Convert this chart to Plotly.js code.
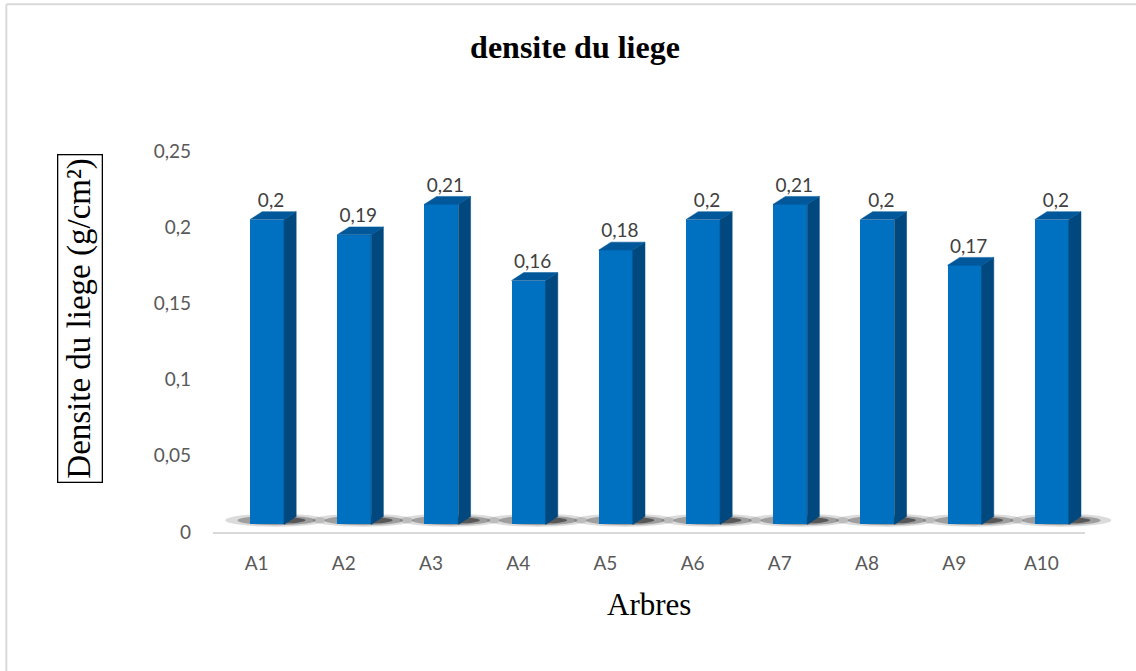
<!DOCTYPE html>
<html><head><meta charset="utf-8">
<script src="https://cdn.plot.ly/plotly-3.0.1.min.js"></script>
<style>html,body{margin:0;padding:0;background:#fff}#chart{width:1136px;height:671px}</style>
</head><body><div id="chart"></div>
<script>
const categories = ['A1','A2','A3','A4','A5','A6','A7','A8','A9','A10'];
const densite = [0.2, 0.19, 0.21, 0.16, 0.18, 0.2, 0.21, 0.2, 0.17, 0.2];
const chartTitle = 'densite du liege';
const yTitle = 'Densite du liege (g/cm²)';
const xTitle = 'Arbres';

// 3D styling geometry (category units / data units)
const faceL = -0.076, faceR = 0.314, depthX = 0.14, depthY = 0.0052, lift = 0.005;
const xRange = [-0.5, 9.5], yRange = [0, 0.25];

const idx = categories.map((c, i) => i);
const px = x => (x - xRange[0]) / (xRange[1] - xRange[0]);
const py = y => (y - yRange[0]) / (yRange[1] - yRange[0]);

const sideX = [], sideY = [], topX = [], topY = [];
idx.forEach(i => {
  const v = densite[i] + lift;
  const l = i + faceL, r = i + faceR;
  sideX.push(r, r + depthX, r + depthX, r, r, null);
  sideY.push(lift, lift + depthY, v + depthY, v, lift, null);
  topX.push(l, l + depthX, r + depthX, r, l, null);
  topY.push(v, v + depthY, v + depthY, v, v, null);
});

const frontTrace = {
  type: 'bar', x: idx, y: densite, base: lift,
  width: faceR - faceL, offset: faceL,
  marker: {color: '#0070C0', line: {width: 0}},
  hoverinfo: 'skip', showlegend: false
};
const sideTrace = {
  type: 'scatter', mode: 'lines', x: sideX, y: sideY, fill: 'toself',
  fillcolor: '#00487E', line: {width: 0.5, color: '#00487E'}, hoverinfo: 'skip', showlegend: false
};
const topTrace = {
  type: 'scatter', mode: 'lines', x: topX, y: topY, fill: 'toself',
  fillcolor: '#00589A', line: {width: 0.5, color: '#00589A'}, hoverinfo: 'skip', showlegend: false
};
const labelTrace = {
  type: 'scatter', mode: 'text',
  x: idx.map(i => i + (faceL + faceR) / 2 + depthX / 3),
  y: densite.map(v => v + lift + depthY),
  text: densite.map(v => String(v).replace('.', ',')),
  textposition: 'top center',
  textfont: {family: 'Lato, "Open Sans", sans-serif', size: 19, color: '#404040'},
  cliponaxis: false, hoverinfo: 'skip', showlegend: false
};

const shapes = [];
idx.forEach(i => {
  shapes.push({type: 'circle', xref: 'paper', yref: 'paper', layer: 'below',
    x0: px(i - 0.36), x1: px(i + 0.8), y0: py(0.0035), y1: py(0.0120),
    fillcolor: 'rgba(0,0,0,0.14)', line: {width: 0}});
  shapes.push({type: 'circle', xref: 'paper', yref: 'paper', layer: 'below',
    x0: px(i - 0.22), x1: px(i + 0.68), y0: py(0.0045), y1: py(0.0108),
    fillcolor: 'rgba(0,0,0,0.28)', line: {width: 0}});
  shapes.push({type: 'circle', xref: 'paper', yref: 'paper', layer: 'below',
    x0: px(i - 0.05), x1: px(i + 0.56), y0: py(0.0055), y1: py(0.0098),
    fillcolor: 'rgba(0,0,0,0.45)', line: {width: 0}});
});
// outer chart border (top and left visible)
shapes.push({type: 'line', xref: 'paper', yref: 'paper', x0: -0.237, x1: 1.06, y0: 1.385, y1: 1.385,
  line: {color: '#d9d9d9', width: 2}});
shapes.push({type: 'line', xref: 'paper', yref: 'paper', x0: -0.237, x1: -0.237, y0: 1.385, y1: -0.4,
  line: {color: '#d9d9d9', width: 2}});

const layout = {
  width: 1136, height: 671,
  margin: {l: 213, r: 51, t: 151, b: 139},
  paper_bgcolor: '#fff', plot_bgcolor: '#fff',
  separators: ',.',
  title: {text: '<b>' + chartTitle + '</b>', x: 575 / 1136, xref: 'container', y: 1 - 47/671, yanchor: 'middle', xanchor: 'center',
    font: {family: '"Liberation Serif", "Times New Roman", serif', size: 32, color: '#000'}},
  xaxis: {type: 'linear', range: xRange, tickvals: idx, ticktext: categories,
    showgrid: false, zeroline: false, showline: true, linecolor: '#d9d9d9', linewidth: 2,
    ticks: '', ticklabelstandoff: 13,
    tickfont: {family: 'Lato, "Open Sans", sans-serif', size: 19, color: '#595959'}, fixedrange: true},
  yaxis: {range: yRange, dtick: 0.05, tick0: 0, showgrid: false, zeroline: false, showline: false,
    ticks: '', ticklabelstandoff: 21,
    tickfont: {family: 'Lato, "Open Sans", sans-serif', size: 19, color: '#595959'}, fixedrange: true},
  annotations: [
    {text: yTitle, xref: 'paper', yref: 'paper', x: (80 - 213) / 872, y: (532 - 319) / 381,
      xanchor: 'center', yanchor: 'middle', textangle: -90, showarrow: false,
      font: {family: '"Liberation Serif", "Times New Roman", serif', size: 33, color: '#000'},
      bordercolor: '#000', borderwidth: 1.3, borderpad: 3},
    {text: xTitle, xref: 'paper', yref: 'paper', x: 0.5, y: (532 - 604) / 381,
      xanchor: 'center', yanchor: 'middle', showarrow: false,
      font: {family: '"Liberation Serif", "Times New Roman", serif', size: 31, color: '#000'}}
  ],
  shapes: shapes,
  bargap: 0
};

Plotly.newPlot('chart', [frontTrace, sideTrace, topTrace, labelTrace], layout, {displayModeBar: false, staticPlot: true});
</script></body></html>
